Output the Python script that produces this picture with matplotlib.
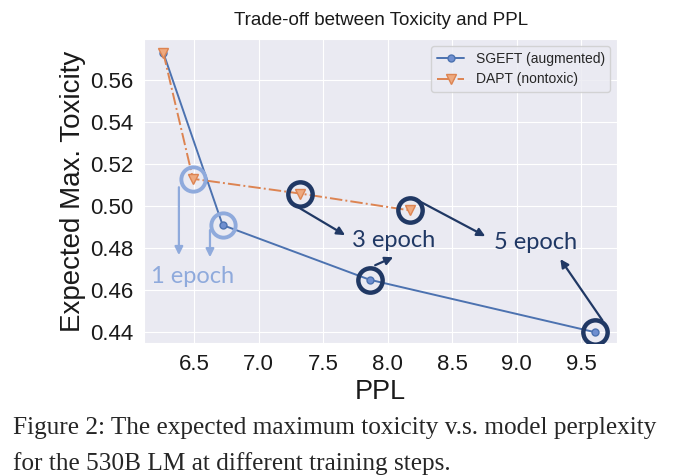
import numpy as np
import matplotlib.pyplot as plt
import matplotlib as mpl
import seaborn as sns

sns.set_style("darkgrid")
mpl.rcParams['font.family'] = ['Liberation Sans', 'DejaVu Sans']

# data
sgeft_ppl = [6.26, 6.72, 7.86, 9.61]
sgeft_tox = [0.573, 0.491, 0.465, 0.440]
dapt_ppl = [6.26, 6.49, 7.32, 8.17]
dapt_tox = [0.573, 0.513, 0.506, 0.498]

xticks = [6.5, 7.0, 7.5, 8.0, 8.5, 9.0, 9.5]
yticks = [0.44, 0.46, 0.48, 0.50, 0.52, 0.54, 0.56]

blue = '#4C72B0'
orange = '#DD8452'
light = '#8FAADC'
navy = '#203864'

fig = plt.figure(figsize=(6.79, 4.76), dpi=100)
ax = fig.add_axes([0.212, 0.279, 0.697, 0.639])

ax.plot(sgeft_ppl, sgeft_tox, '-o', color=blue, lw=1.4, ms=5,
        mfc='#6f8fd0', mec=blue, label='SGEFT (augmented)')
ax.plot(dapt_ppl, dapt_tox, '-.v', color=orange, lw=1.4, ms=7,
        mfc='#eeaa80', mec=orange, label='DAPT (nontoxic)')

# highlight circles: index 1 -> 1 epoch, 2 -> 3 epoch, 3 -> 5 epoch
for i in range(1, 4):
    c = light if i == 1 else navy
    mew = 2.8 if i == 1 else 3.2
    for xs, ys in [(sgeft_ppl, sgeft_tox), (dapt_ppl, dapt_tox)]:
        ax.plot(xs[i], ys[i], 'o', ms=17.5, mfc='none', mec=c, mew=mew, zorder=4)

# arrows (start, end) in data units
arrows = [
    ((6.381, 0.5090), (6.381, 0.4767), light),
    ((6.622, 0.4886), (6.622, 0.4757), light),
    ((7.305, 0.4995), (7.67, 0.4862), navy),
    ((7.903, 0.4719), (8.043, 0.4757), navy),
    ((8.229, 0.5029), (8.757, 0.4857), navy),
    ((9.665, 0.4457), (9.339, 0.4748), navy),
]
for start, end, c in arrows:
    ax.annotate('', xy=end, xytext=start,
                arrowprops=dict(arrowstyle='-|>', color=c, lw=1.6,
                                mutation_scale=12, shrinkA=0, shrinkB=0),
                zorder=5)

ax.text(6.49, 0.4667, '1 epoch', color=light, fontsize=17, family='Lato',
        ha='center', va='center')
ax.text(8.05, 0.4838, '3 epoch', color=navy, fontsize=17, family='Lato',
        ha='center', va='center')
ax.text(9.145, 0.4829, '5 epoch', color=navy, fontsize=17, family='Lato',
        ha='center', va='center')

ax.set_xlim(6.11, 9.78)
ax.set_ylim(0.4348, 0.5795)
ax.set_xticks(xticks)
ax.set_yticks(yticks)
ax.set_xticklabels([f'{v:.1f}' for v in xticks])
ax.set_yticklabels([f'{v:.2f}' for v in yticks])
ax.tick_params(labelsize=16, colors='#1a1a1a', pad=4)

ax.set_xlabel('PPL', fontsize=19.5, color='#1a1a1a', labelpad=3)
ax.set_ylabel('Expected Max. Toxicity', fontsize=20, color='#1a1a1a', labelpad=3)
ax.set_title('Trade-off between Toxicity and PPL', fontsize=13.5, color='#1a1a1a', pad=10)

ax.legend(loc='upper right', fontsize=10, frameon=True, borderaxespad=0.5,
          handlelength=2.0)

fig.text(0.019, 0.101, 'Figure 2: The expected maximum toxicity v.s. model perplexity',
         family='Liberation Serif', fontsize=18.2, va='center')
fig.text(0.019, 0.027, 'for the 530B LM at different training steps.',
         family='Liberation Serif', fontsize=18.2, va='center')

fig.savefig('out.png', dpi=100)
